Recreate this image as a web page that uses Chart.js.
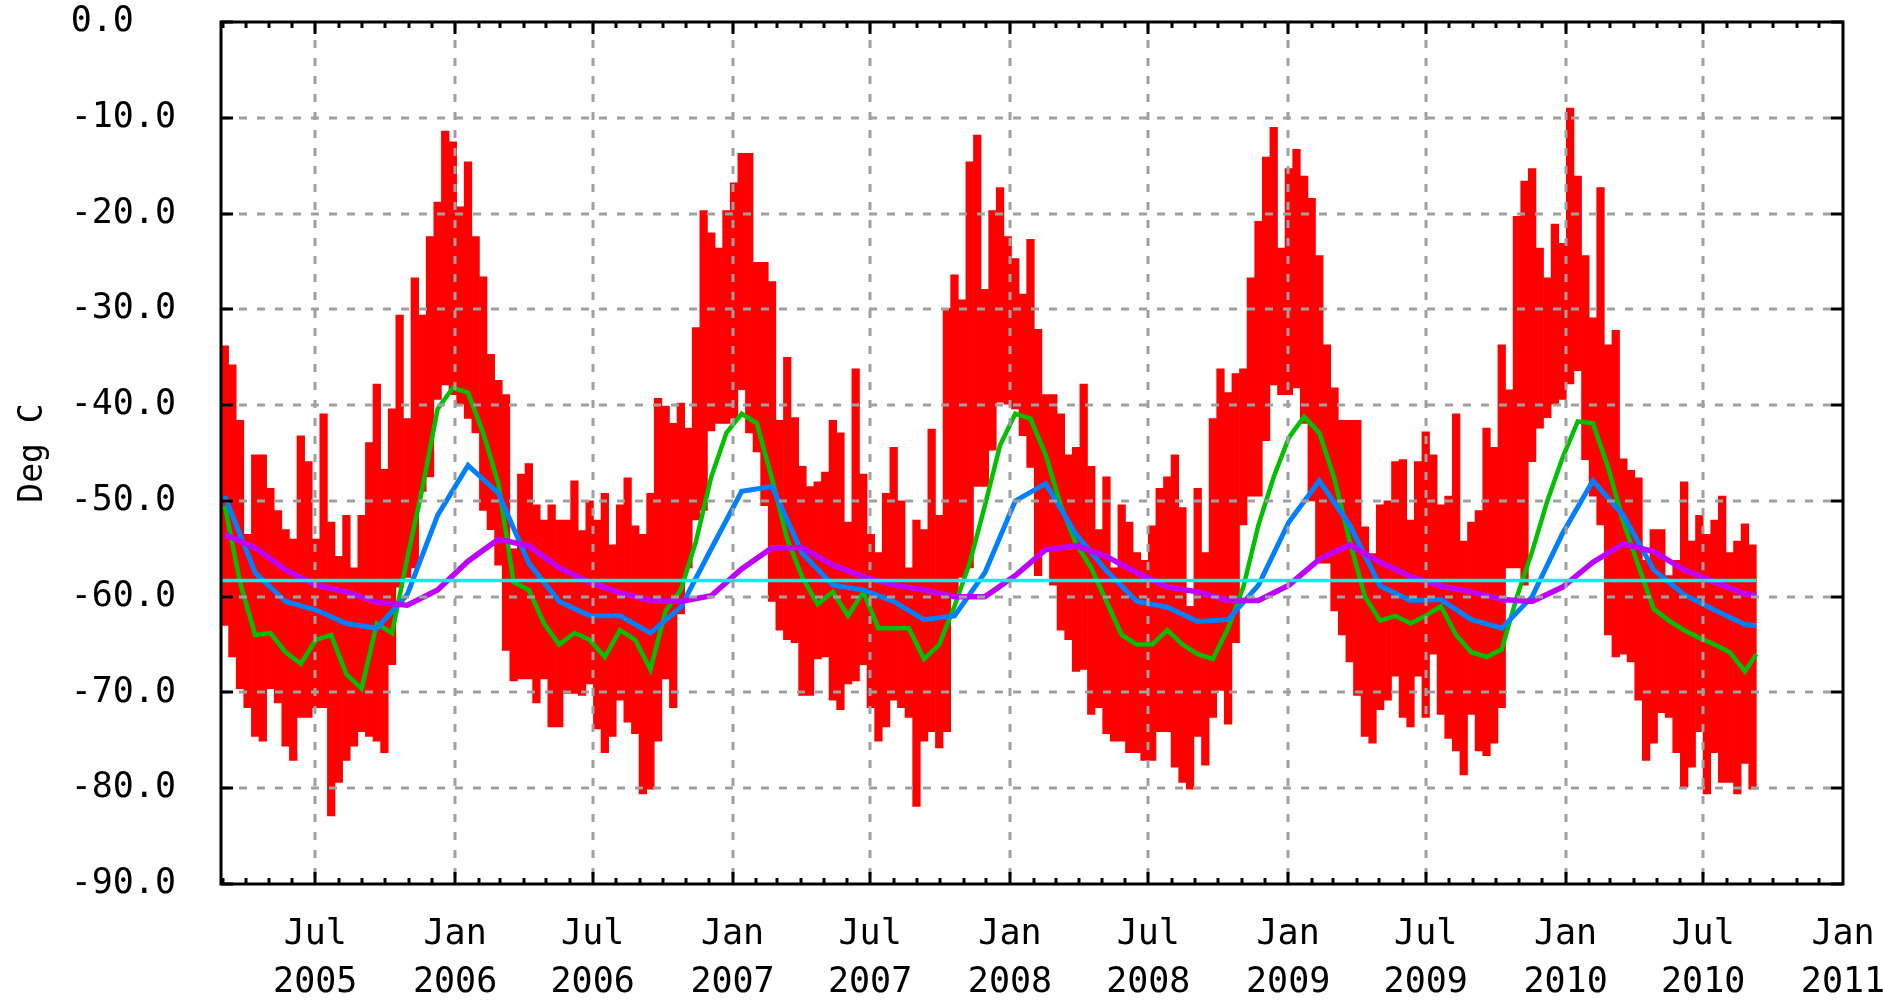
<!DOCTYPE html>
<html>
<head>
<meta charset="utf-8">
<title>Deg C</title>
<script src="https://cdn.jsdelivr.net/npm/chart.js@4.4.1/dist/chart.umd.min.js"></script>
<style>
  html, body { margin: 0; padding: 0; background: #fff; }
  canvas { display: block; }
</style>
</head>
<body>
<canvas id="tempChart" width="1883" height="1005"></canvas>
<script>
// Red trace: daily temperature, read as top / bottom of each 10-day bin
const redStart = '2005-02-27';
const redBinDays = 10;
const redHigh = [
  -33.8, -35.8, -41.6, -53.5, -45.2, -45.2, -48.7, -51.0, -53.0, -54.0, -43.2, -45.9,
  -54.0, -40.9, -52.2, -55.8, -51.5, -57.0, -51.5, -43.9, -37.8, -46.7, -40.4, -30.6,
  -41.4, -26.7, -30.6, -22.4, -18.8, -11.4, -12.5, -19.3, -14.6, -22.4, -26.6, -34.7,
  -37.4, -38.9, -55.0, -47.2, -46.1, -50.4, -52.0, -50.4, -52.0, -52.0, -47.9, -53.1,
  -50.0, -52.0, -49.2, -54.6, -50.4, -47.6, -52.6, -53.5, -49.2, -39.3, -40.1, -41.9,
  -39.8, -42.4, -31.9, -19.7, -22.0, -23.6, -19.7, -16.8, -13.7, -13.7, -25.1, -25.1,
  -27.1, -41.6, -35.0, -41.3, -46.4, -48.5, -48.0, -47.0, -41.6, -42.9, -52.2, -36.2,
  -47.2, -53.5, -55.4, -49.2, -44.4, -50.0, -57.0, -52.0, -53.0, -42.5, -51.5, -29.9,
  -26.4, -29.0, -14.6, -11.8, -27.9, -19.7, -17.3, -22.4, -24.7, -28.4, -22.7, -32.1,
  -38.9, -38.9, -40.9, -45.2, -44.4, -37.8, -46.4, -53.0, -47.5, -57.0, -50.4, -52.2,
  -55.4, -56.2, -52.6, -48.7, -47.5, -45.2, -50.7, -61.0, -48.7, -55.4, -41.4, -36.2,
  -38.7, -36.7, -36.2, -26.7, -20.8, -14.1, -11.0, -23.6, -15.3, -13.3, -16.1, -18.4,
  -24.4, -33.7, -38.2, -41.6, -41.6, -41.6, -52.7, -55.5, -50.4, -50.0, -45.9, -45.7,
  -52.0, -45.9, -42.8, -45.2, -50.4, -49.5, -40.9, -54.2, -52.2, -51.0, -42.4, -44.4,
  -33.7, -38.4, -20.3, -16.6, -15.3, -23.6, -26.7, -21.1, -23.1, -9.0, -16.1, -24.4,
  -30.9, -17.3, -33.7, -32.2, -45.6, -46.8, -47.6, -56.2, -53.0, -53.0, -57.8, -56.2,
  -48.0, -54.2, -51.5, -53.5, -52.0, -49.5, -55.4, -54.2, -52.4, -54.6
];
const redLow = [
  -63.0, -66.3, -69.6, -71.6, -74.6, -75.1, -69.6, -71.1, -75.6, -77.1, -72.6, -72.6,
  -71.6, -71.6, -82.9, -79.4, -77.1, -75.6, -74.1, -74.6, -75.1, -76.3, -67.1, -59.0,
  -58.0, -57.0, -49.0, -47.5, -39.4, -37.9, -38.9, -39.9, -41.4, -42.9, -51.0, -53.0,
  -56.7, -65.6, -68.8, -68.6, -68.6, -71.1, -68.6, -73.6, -73.6, -70.1, -70.1, -70.3,
  -69.1, -73.8, -76.3, -74.6, -70.8, -73.1, -74.3, -80.6, -80.1, -75.1, -68.6, -71.6,
  -61.8, -57.0, -52.0, -51.0, -42.7, -41.9, -41.9, -41.4, -38.4, -42.9, -44.9, -50.5,
  -60.5, -63.5, -64.5, -64.8, -70.3, -70.3, -66.5, -66.3, -70.8, -71.8, -69.1, -68.8,
  -67.1, -71.6, -75.1, -73.6, -70.8, -71.6, -72.6, -81.9, -75.1, -74.1, -75.8, -74.1,
  -60.0, -58.0, -57.0, -48.5, -48.5, -44.7, -39.7, -39.9, -40.4, -43.2, -46.5, -57.8,
  -55.0, -58.8, -63.5, -64.5, -67.8, -67.6, -72.3, -71.6, -74.3, -75.1, -75.1, -76.3,
  -76.3, -77.1, -77.1, -74.1, -74.1, -77.8, -79.4, -80.1, -74.6, -77.6, -72.6, -69.8,
  -73.3, -64.8, -52.5, -49.5, -49.5, -43.7, -37.9, -38.9, -38.9, -38.2, -41.9, -50.0,
  -56.5, -56.5, -61.5, -64.0, -66.8, -70.3, -74.6, -75.3, -71.8, -70.8, -68.3, -72.6,
  -73.6, -68.3, -72.6, -66.0, -72.3, -74.8, -76.1, -78.6, -72.3, -76.1, -76.6, -75.3,
  -71.6, -57.0, -57.0, -58.8, -45.9, -42.4, -41.3, -39.9, -39.4, -37.8, -36.4, -45.7,
  -49.5, -52.5, -64.0, -66.3, -66.0, -66.8, -70.8, -77.1, -75.3, -72.1, -72.6, -76.3,
  -79.9, -77.8, -74.1, -80.6, -76.3, -79.4, -79.4, -80.6, -77.4, -80.1
];

// Running means (green every 20 days, blue / purple every 40 days)
const greenStepDays = 20;
const greenMean = [
  -50.5, -58.5, -64.0, -63.8, -65.8, -67.0, -64.5, -64.0, -68.1, -69.6, -62.8, -63.8,
  -56.0, -48.7, -40.4, -38.2, -38.7, -42.9, -48.2,
  -58.5, -59.3, -62.8, -65.0, -63.8, -64.5, -66.3, -63.5, -64.5, -67.6, -61.5, -59.3,
  -54.2, -47.5, -42.9, -40.9, -41.9, -47.7,
  -54.0, -58.0, -60.8, -59.5, -62.0, -59.5, -63.3, -63.3, -63.3, -66.5, -65.0, -61.0,
  -56.5, -50.5, -44.2, -40.9, -41.4, -45.2,
  -50.5, -54.5, -57.0, -60.5, -64.0, -65.0, -65.0, -63.5, -65.0, -66.0, -66.5, -63.3,
  -59.0, -52.5, -47.5, -43.4, -41.2, -42.9,
  -47.7, -54.2, -60.0, -62.5, -62.0, -62.8, -62.0, -61.0, -64.0, -65.8, -66.3, -65.5,
  -60.0, -55.3, -50.0, -45.5, -41.7, -41.9,
  -46.5, -52.2, -56.8, -61.3, -62.5, -63.5, -64.3, -65.0, -65.8, -67.8, -66.0
];
const blueStepDays = 40;
const blueMean = [
  -49.5, -57.5, -60.5, -61.4, -62.8, -63.3, -59.8, -51.5, -46.3, -49.2,
  -56.5, -60.5, -62.0, -62.0, -63.8, -61.1, -55.0, -49.0, -48.5,
  -55.5, -58.8, -59.3, -60.5, -62.4, -62.0, -57.5, -50.0, -48.2,
  -53.5, -57.3, -60.5, -61.1, -62.6, -62.4, -58.8, -52.2, -47.9,
  -52.5, -58.9, -60.4, -60.3, -62.4, -63.3, -60.0, -53.4, -47.9,
  -51.5, -57.2, -59.8, -61.4, -62.9, -63.0
];
const purpleStepDays = 40;
const purpleMean = [
  -53.5, -54.9, -57.2, -58.8, -59.5, -60.6, -60.9, -59.3, -56.3, -54.0,
  -54.7, -57.0, -58.5, -59.6, -60.4, -60.5, -59.9, -57.1, -54.9,
  -54.9, -56.7, -57.9, -58.8, -59.3, -60.0, -60.0, -57.8, -55.1,
  -54.7, -55.8, -57.5, -59.0, -59.5, -60.4, -60.4, -58.8, -56.1,
  -54.6, -56.4, -57.9, -58.9, -59.5, -60.3, -60.5, -59.0, -56.4,
  -54.5, -55.3, -57.2, -58.5, -59.7, -59.9
];
const overallMean = -58.3;

// Axis
const xFirst = '2005-02-27';
const xLast = '2011-01-01';
const xTicks = ['2005-07', '2006-01', '2006-07', '2007-01', '2007-07', '2008-01',
  '2008-07', '2009-01', '2009-07', '2010-01', '2010-07', '2011-01'];
const monthNames = { '01': 'Jan', '07': 'Jul' };

// days since 2005-01-01
function toDay(s) {
  const [y, m, d] = s.split('-').map(Number);
  return (Date.UTC(y, m - 1, d || 1) - Date.UTC(2005, 0, 1)) / 864e5;
}

const redStartDay = toDay(redStart);
const redEndDay = redStartDay + redBinDays * redHigh.length;
const majorDays = xTicks.map(toDay);

function meanPoints(values, step) {
  return values.map((v, i) => ({
    x: Math.min(redStartDay + redBinDays / 2 + step * i, redEndDay),
    y: v
  }));
}

const font = { family: 'DejaVu Sans Mono', size: 35, lineHeight: 48 / 35 };

// Grid (in front of the data), frame and inward tick marks, gnuplot style
const frame = {
  id: 'frame',
  afterDatasetsDraw(chart) {
    const { ctx, chartArea: a, scales: { x, y } } = chart;
    ctx.save();

    ctx.strokeStyle = '#a0a0a0';
    ctx.lineWidth = 3;
    ctx.setLineDash([8, 10]);
    ctx.beginPath();
    majorDays.forEach(d => {
      const px = Math.round(x.getPixelForValue(d));
      if (px > a.left + 3 && px < a.right - 3) {
        ctx.moveTo(px, a.top);
        ctx.lineTo(px, a.bottom);
      }
    });
    y.ticks.forEach(t => {
      if (t.value <= -90 || t.value >= 0) return;
      const py = Math.round(y.getPixelForValue(t.value));
      ctx.moveTo(a.left, py);
      ctx.lineTo(a.right, py);
    });
    ctx.stroke();
    ctx.setLineDash([]);

    ctx.strokeStyle = '#000';
    ctx.lineWidth = 3;
    ctx.strokeRect(a.left, a.top, a.right - a.left, a.bottom - a.top);

    ctx.beginPath();
    // monthly minor ticks, major at Jan / Jul
    for (let yr = 2005; yr <= 2010; yr++) {
      for (let m = 1; m <= 12; m++) {
        const d = (Date.UTC(yr, m - 1, 1) - Date.UTC(2005, 0, 1)) / 864e5;
        if (d <= toDay(xFirst)) continue;
        const len = (m === 1 || m === 7) ? 12 : 6;
        const px = Math.round(x.getPixelForValue(d));
        ctx.moveTo(px, a.bottom);
        ctx.lineTo(px, a.bottom - len);
        ctx.moveTo(px, a.top);
        ctx.lineTo(px, a.top + len);
      }
    }
    y.ticks.forEach(t => {
      const py = Math.round(y.getPixelForValue(t.value));
      ctx.moveTo(a.left, py);
      ctx.lineTo(a.left + 12, py);
      ctx.moveTo(a.right, py);
      ctx.lineTo(a.right - 12, py);
    });
    ctx.stroke();
    ctx.restore();
  }
};

new Chart(document.getElementById('tempChart'), {
  type: 'bar',
  data: {
    datasets: [
      {
        type: 'line',
        data: [{ x: redStartDay, y: overallMean }, { x: redEndDay, y: overallMean }],
        borderColor: '#00f0f0',
        borderWidth: 3.5,
        pointRadius: 0,
        order: 1
      },
      {
        type: 'line',
        data: meanPoints(purpleMean, purpleStepDays),
        borderColor: '#c000ff',
        borderWidth: 5.5,
        pointRadius: 0,
        order: 2
      },
      {
        type: 'line',
        data: meanPoints(blueMean, blueStepDays),
        borderColor: '#0080ff',
        borderWidth: 5,
        pointRadius: 0,
        order: 3
      },
      {
        type: 'line',
        data: meanPoints(greenMean, greenStepDays),
        borderColor: '#00c000',
        borderWidth: 4.5,
        pointRadius: 0,
        order: 4
      },
      {
        type: 'bar',
        data: redHigh.map((hi, i) => ({
          x: redStartDay + redBinDays * i + redBinDays / 2,
          y: [redLow[i], hi]
        })),
        backgroundColor: '#ff0000',
        borderWidth: 0,
        barPercentage: 1,
        categoryPercentage: 1,
        order: 5
      }
    ]
  },
  options: {
    responsive: false,
    animation: false,
    devicePixelRatio: 1,
    layout: { padding: { top: 22, right: 40, bottom: 0, left: 0 } },
    plugins: { legend: { display: false }, tooltip: { enabled: false } },
    scales: {
      x: {
        type: 'linear',
        offset: false,
        min: toDay(xFirst),
        max: toDay(xLast),
        grid: { display: false, drawTicks: false },
        border: { display: false },
        afterBuildTicks: s => { s.ticks = majorDays.map(v => ({ value: v })); },
        afterFit: s => { s.height = 121; s.paddingLeft = 0; s.paddingRight = 0; },
        ticks: {
          autoSkip: false,
          maxRotation: 0,
          minRotation: 0,
          padding: 27,
          color: '#000',
          font,
          callback: (v, i) => [monthNames[xTicks[i].slice(5)], xTicks[i].slice(0, 4)]
        }
      },
      y: {
        min: -90,
        max: 0,
        grid: { display: false, drawTicks: false },
        border: { display: false },
        afterFit: s => { s.width = 221; s.paddingTop = 0; s.paddingBottom = 0; },
        ticks: {
          stepSize: 10,
          padding: 45,
          color: '#000',
          font,
          callback: v => v.toFixed(1).padEnd(5, ' ')
        },
        title: {
          display: true,
          text: 'Deg C',
          color: '#000',
          font: { family: 'DejaVu Sans Mono', size: 33, lineHeight: 1.2 },
          padding: { top: 14, bottom: 0 }
        }
      }
    }
  },
  plugins: [frame]
});
</script>
</body>
</html>
